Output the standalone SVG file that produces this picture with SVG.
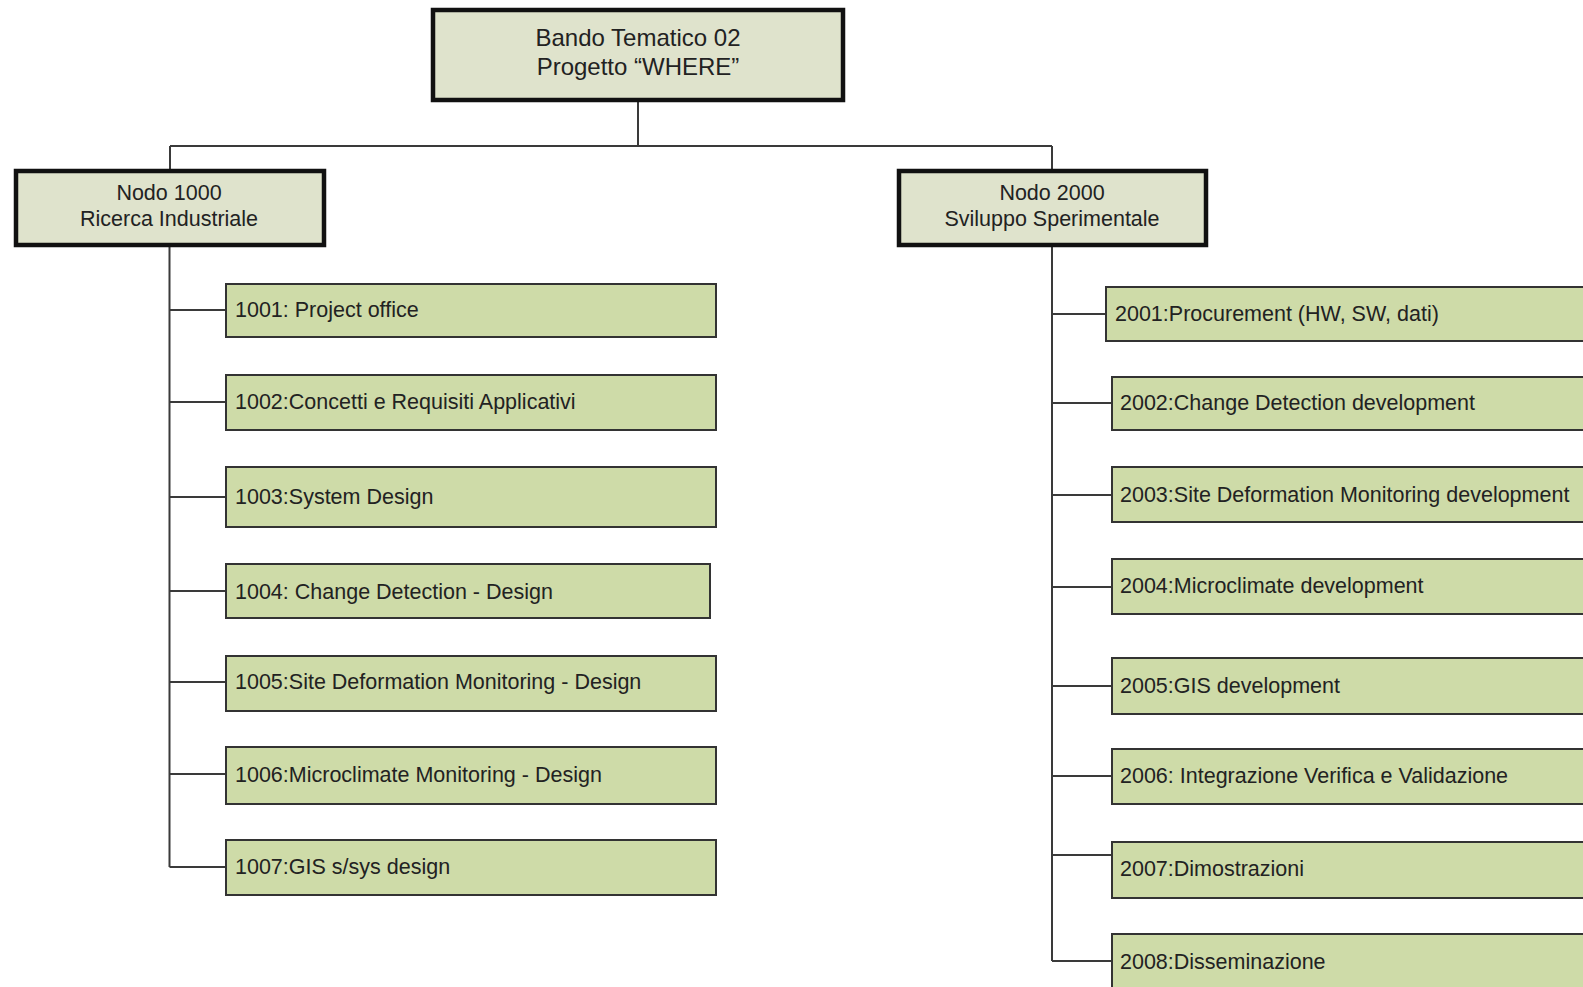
<svg xmlns="http://www.w3.org/2000/svg" width="1583" height="987" viewBox="0 0 1583 987">
<style>
.top{fill:#dfe3cc;stroke:#111;stroke-width:4.5}
.wp{fill:#cedba8;stroke:#333;stroke-width:2}
.t{font-family:"Liberation Sans",Arial,sans-serif;font-size:21.5px;fill:#222}
.tt{font-family:"Liberation Sans",Arial,sans-serif;font-size:24px;fill:#222}
.c{text-anchor:middle}
#connectors path{fill:none;stroke:#3a3a3a;stroke-width:2}
</style>
<rect width="1583" height="987" fill="#fff"/>
<g id="connectors">
<path d="M638,101 V146 M170,146 H1052 M170,146 V170 M1052,146 V170"/>
<path d="M169.5,245 V867 M169.5,310 H225 M169.5,402 H225 M169.5,497 H225 M169.5,591 H225 M169.5,682 H225 M169.5,774 H225 M169.5,867 H225"/>
<path d="M1052,245 V961 M1052,314 H1106 M1052,403 H1112 M1052,495 H1112 M1052,587 H1112 M1052,686 H1112 M1052,776 H1112 M1052,855 H1112 M1052,961 H1112"/>
</g>
<g id="root"><rect class="top" x="433" y="10" width="410" height="90"/><text class="tt c" x="638" y="46">Bando Tematico 02</text><text class="tt c" x="638" y="75">Progetto “WHERE”</text></g>
<g id="n1000"><rect class="top" x="16" y="171" width="308" height="74"/><text class="t c" x="169" y="200">Nodo 1000</text><text class="t c" x="169" y="226">Ricerca Industriale</text></g>
<g id="n2000"><rect class="top" x="899" y="171" width="307" height="74"/><text class="t c" x="1052" y="200">Nodo 2000</text><text class="t c" x="1052" y="226">Sviluppo Sperimentale</text></g>
<g id="w1001"><rect class="wp" x="226" y="284" width="490" height="53"/><text class="t" x="235" y="316.5">1001: Project office</text></g>
<g id="w1002"><rect class="wp" x="226" y="375" width="490" height="55"/><text class="t" x="235" y="408.5">1002:Concetti e Requisiti Applicativi</text></g>
<g id="w1003"><rect class="wp" x="226" y="467" width="490" height="60"/><text class="t" x="235" y="503.5">1003:System Design</text></g>
<g id="w1004"><rect class="wp" x="226" y="564" width="484" height="54"/><text class="t" x="235" y="598.5">1004: Change Detection - Design</text></g>
<g id="w1005"><rect class="wp" x="226" y="656" width="490" height="55"/><text class="t" x="235" y="689">1005:Site Deformation Monitoring - Design</text></g>
<g id="w1006"><rect class="wp" x="226" y="747" width="490" height="57"/><text class="t" x="235" y="781.5">1006:Microclimate Monitoring - Design</text></g>
<g id="w1007"><rect class="wp" x="226" y="840" width="490" height="55"/><text class="t" x="235" y="873.5">1007:GIS s/sys design</text></g>
<g id="w2001"><rect class="wp" x="1106" y="287" width="500" height="54"/><text class="t" x="1115" y="320.5">2001:Procurement (HW, SW, dati)</text></g>
<g id="w2002"><rect class="wp" x="1112" y="377" width="500" height="53"/><text class="t" x="1120" y="409.5">2002:Change Detection development</text></g>
<g id="w2003"><rect class="wp" x="1112" y="467" width="500" height="55"/><text class="t" x="1120" y="501.5">2003:Site Deformation Monitoring development</text></g>
<g id="w2004"><rect class="wp" x="1112" y="559" width="500" height="55"/><text class="t" x="1120" y="593">2004:Microclimate development</text></g>
<g id="w2005"><rect class="wp" x="1112" y="658" width="500" height="56"/><text class="t" x="1120" y="693">2005:GIS development</text></g>
<g id="w2006"><rect class="wp" x="1112" y="749" width="500" height="55"/><text class="t" x="1120" y="783">2006: Integrazione Verifica e Validazione</text></g>
<g id="w2007"><rect class="wp" x="1112" y="842" width="500" height="56"/><text class="t" x="1120" y="875.5">2007:Dimostrazioni</text></g>
<g id="w2008"><rect class="wp" x="1112" y="934" width="500" height="70"/><text class="t" x="1120" y="968.5">2008:Disseminazione</text></g>
</svg>
